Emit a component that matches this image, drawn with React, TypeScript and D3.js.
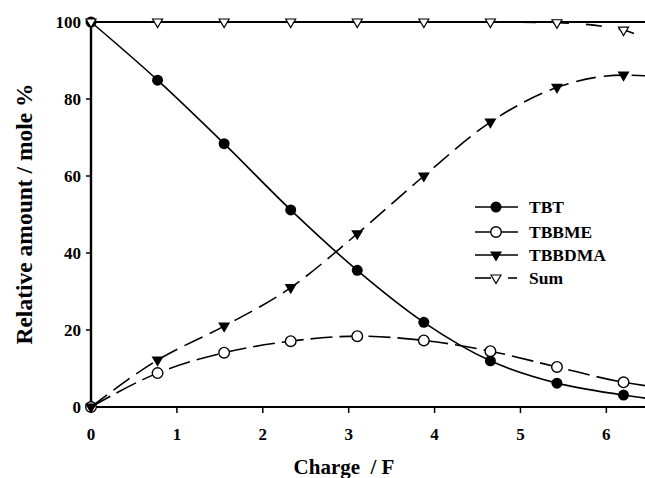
import React from 'react';
import * as d3 from 'd3';

const charge = [0, 0.775, 1.55, 2.325, 3.1, 3.875, 4.65, 5.425, 6.2, 6.975];
const tbt = [100, 84.9, 68.4, 51.2, 35.5, 22, 12, 6.2, 3.1, 0.8];
const tbbme = [0, 8.8, 14.1, 17.1, 18.4, 17.3, 14.5, 10.4, 6.4, 4.3];
const tbbdma = [0, 12.2, 21, 31, 45, 60, 74, 83, 86.2, 85];
const sum = [100, 100, 100, 100, 100, 100, 100, 99.8, 97.9, 86];

const xTicks = [0, 1, 2, 3, 4, 5, 6];
const yTicks = [0, 20, 40, 60, 80, 100];

const W = 645;
const H = 478;
const margin = { top: 22, right: 0, bottom: 71, left: 91 };
const FONT = '"Liberation Serif", "Times New Roman", serif';

type Marker = 'fillCircle' | 'openCircle' | 'fillTri' | 'openTri';

interface Series {
  name: string;
  values: number[];
  dash: string | null;
  marker: Marker;
}

const series: Series[] = [
  { name: 'TBT', values: tbt, dash: null, marker: 'fillCircle' },
  { name: 'TBBME', values: tbbme, dash: '22 7', marker: 'openCircle' },
  { name: 'TBBDMA', values: tbbdma, dash: '20 8', marker: 'fillTri' },
  { name: 'Sum', values: sum, dash: '16 17', marker: 'openTri' },
];

const MarkerShape = ({ kind, x, y }: { kind: Marker; x: number; y: number }) => {
  if (kind === 'fillCircle') return <circle cx={x} cy={y} r={5.5} fill="#000" />;
  if (kind === 'openCircle')
    return <circle cx={x} cy={y} r={5.3} fill="#fff" stroke="#000" strokeWidth={1.4} />;
  const s = kind === 'fillTri' ? 6 : 5;
  const pts = `${x - s},${y - s * 0.6} ${x + s},${y - s * 0.6} ${x},${y + s * 1.1}`;
  return kind === 'fillTri' ? (
    <polygon points={pts} fill="#000" />
  ) : (
    <polygon points={pts} fill="#fff" stroke="#000" strokeWidth={1.2} />
  );
};

const App: React.FC = () => {
  const x = d3.scaleLinear().domain([0, 6.45]).range([margin.left, W - margin.right]);
  const y = d3.scaleLinear().domain([0, 100]).range([H - margin.bottom, margin.top]);
  const y0 = y(0);

  const line = d3
    .line<number>()
    .x((_, i) => x(charge[i]))
    .y((d) => y(d))
    .curve(d3.curveMonotoneX);

  const legendX = 475;
  const legendY = [207, 232, 255, 278];

  return (
    <svg
      width={W}
      height={H}
      style={{ position: 'absolute', left: 0, top: 0, background: '#fff' }}
      fontFamily={FONT}
    >
      <defs>
        <clipPath id="plot">
          <rect x={margin.left - 8} y={0} width={W} height={y0 + 8} />
        </clipPath>
      </defs>

      {/* frame */}
      <line x1={x(0)} x2={W} y1={y(100)} y2={y(100)} stroke="#000" strokeWidth={2} />
      <line x1={x(0)} x2={W} y1={y0} y2={y0} stroke="#000" strokeWidth={2.2} />
      <line x1={x(0)} x2={x(0)} y1={y(100) - 1} y2={y0 + 1} stroke="#000" strokeWidth={2.4} />

      {/* y ticks */}
      {yTicks.map((t) => (
        <g key={'y' + t}>
          <line x1={x(0) - 5} x2={x(0)} y1={y(t)} y2={y(t)} stroke="#000" strokeWidth={1.5} />
          <text
            x={81}
            y={y(t)}
            dy="0.35em"
            textAnchor="end"
            fontSize={17}
            fontWeight="bold"
          >
            {t}
          </text>
        </g>
      ))}

      {/* x ticks */}
      {xTicks.map((t) => (
        <g key={'x' + t}>
          <line x1={x(t)} x2={x(t)} y1={y0} y2={y0 + 6} stroke="#000" strokeWidth={1.5} />
          <text x={x(t)} y={440} textAnchor="middle" fontSize={17} fontWeight="bold">
            {t}
          </text>
        </g>
      ))}

      {/* axis titles */}
      <text x={344} y={474} textAnchor="middle" fontSize={21} fontWeight="bold" xmlSpace="preserve">
        {'Charge  / F'}
      </text>
      <text
        transform={`translate(32, 214) rotate(-90)`}
        textAnchor="middle"
        fontSize={23.5}
        fontWeight="bold"
      >
        Relative amount / mole %
      </text>

      {/* series */}
      <g clipPath="url(#plot)">
        {series.map((s) => (
          <path
            key={s.name}
            d={line(s.values) || ''}
            fill="none"
            stroke="#000"
            strokeWidth={1.6}
            strokeDasharray={s.dash || undefined}
          />
        ))}
        {series.map((s) =>
          s.values.map((v, i) => (
            <MarkerShape key={s.name + i} kind={s.marker} x={x(charge[i])} y={y(v)} />
          ))
        )}
      </g>

      {/* legend */}
      {series.map((s, i) => (
        <g key={'leg' + s.name}>
          {s.name === 'Sum' ? (
            <>
              <line x1={legendX} x2={legendX + 16} y1={legendY[i]} y2={legendY[i]} stroke="#000" strokeWidth={1.6} />
              <line x1={legendX + 33} x2={legendX + 42} y1={legendY[i]} y2={legendY[i]} stroke="#000" strokeWidth={1.6} />
            </>
          ) : (
            <line x1={legendX} x2={legendX + 43} y1={legendY[i]} y2={legendY[i]} stroke="#000" strokeWidth={1.6} />
          )}
          <MarkerShape kind={s.marker} x={legendX + 21} y={legendY[i]} />
          <text x={529} y={legendY[i]} dy="0.35em" fontSize={17.5} fontWeight="bold">
            {s.name}
          </text>
        </g>
      ))}
    </svg>
  );
};

export default App;
